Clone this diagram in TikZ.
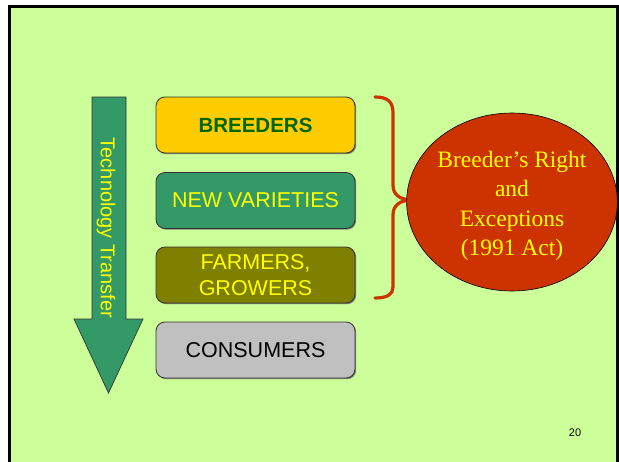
\documentclass[tikz,border=0pt]{standalone}
\usepackage{fontspec}
\setmainfont{Liberation Serif}
\newfontfamily\arialf{Liberation Sans}
\usetikzlibrary{shapes.geometric,shadows}
\definecolor{bgc}{HTML}{CCFF99}
\definecolor{gold}{HTML}{FFCC00}
\definecolor{seagreen}{HTML}{339966}
\definecolor{olivec}{HTML}{808000}
\definecolor{silverc}{HTML}{C0C0C0}
\definecolor{darkgreen}{HTML}{006600}
\definecolor{yel}{HTML}{FFFF00}
\definecolor{rust}{HTML}{CC3300}
\definecolor{edgec}{HTML}{333333}
\tikzset{
  box/.style={draw=edgec, line width=0.8pt, rounded corners=9pt, minimum width=199pt, minimum height=56pt,
    inner sep=0pt, align=center, font=\arialf\fontsize{21.5}{26}\selectfont,
    drop shadow={shadow xshift=1.2pt, shadow yshift=-1.2pt, fill=black!60, opacity=0.8}},
  ovalnode/.style={ellipse, draw=black, line width=0.6pt, fill=rust, minimum width=194pt, minimum height=178pt,
    inner sep=0pt, align=center, text=yel, font=\fontsize{23.5}{29.3}\selectfont},
}
\begin{document}
\begin{tikzpicture}[x=1pt,y=-1pt]
\useasboundingbox (0,0) rectangle (619,461);
\fill[white] (0,0) rectangle (619,461);
\fill[bgc] (9.5,6.5) rectangle (617.5,475);
\draw[black, line width=3pt] (9.5,475) -- (9.5,6.5) -- (617.5,6.5) -- (617.5,475);
% arrow
\draw[fill=seagreen, draw=edgec, line width=0.7pt] (92,97) -- (126,97) -- (126,319) -- (143,319) -- (108.5,393) -- (74,319) -- (92,319) -- cycle;
\node[rotate=-90, text=yel, font=\arialf\fontsize{20}{24}\selectfont] (tt) at (106,228) {Technology Transfer};
% boxes
\node[box, fill=gold, text=darkgreen, font=\arialf\bfseries\fontsize{20.5}{26}\selectfont] (breeders) at (255.5,125) {BREEDERS};
\node[box, fill=seagreen, text=yel] (newvar) at (255.5,200.5) {NEW VARIETIES};
\node[box, fill=olivec, text=yel] (farmers) at (255.5,275) {FARMERS,\\GROWERS};
\node[box, fill=silverc, text=black] (consumers) at (255.5,350) {CONSUMERS};
% brace
\coordinate (bt) at (375,97);
\coordinate (bm) at (413,200);
\coordinate (bb) at (375,298);
\draw[rust, line width=3.2pt, line cap=round] (bt) .. controls (388,97) and (393,102) .. (393,113) -- (393,185) .. controls (393,195) and (400,200) .. (bm)
  .. controls (400,200) and (393,205) .. (393,215) -- (393,287) .. controls (393,294) and (388,298) .. (bb);
% ellipse
\node[ovalnode] (right) at (512,202) {\raisebox{-3.5pt}[\height][\depth]{\begin{tabular}{@{}c@{}}Breeder’s Right\\and\\Exceptions\\(1991 Act)\end{tabular}}};
\node[font=\arialf\fontsize{11}{13}\selectfont, text=black] (num) at (575,433) {20};
\end{tikzpicture}
\end{document}
